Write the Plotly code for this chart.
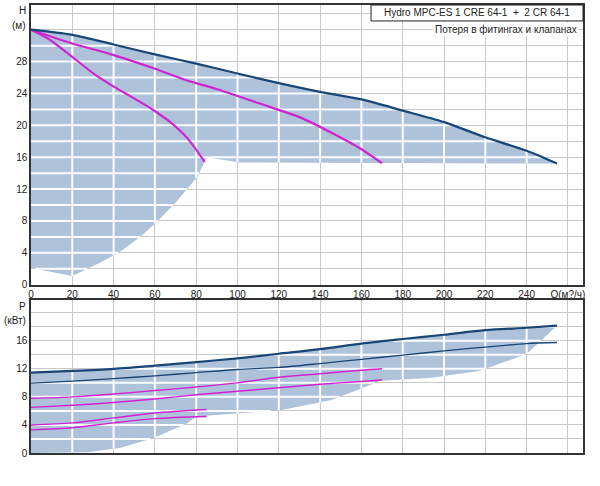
import numpy as np
import plotly.graph_objects as go

# ---------------- data ----------------
# Head curves H(Q)
q_max = [0, 20, 40, 60, 80, 100, 120, 140, 160, 180, 200, 220, 240, 254.7]
h_max = [32.0, 31.35, 30.15, 28.9, 27.75, 26.5, 25.3, 24.2, 23.25, 21.85, 20.4, 18.5, 16.8, 15.2]

q_two = [0, 19.5, 38.9, 58.3, 76, 90.6, 110, 130.3, 146, 160, 170]
h_two = [32.0, 30.3, 28.9, 27.25, 25.6, 24.5, 22.8, 21.0, 19.0, 17.0, 15.25]

q_one = [0, 8.2, 19.5, 30.8, 40.5, 51.8, 59.9, 67.9, 76, 84.1]
h_one = [32.0, 30.9, 28.7, 26.4, 24.8, 23.1, 21.8, 20.3, 18.3, 15.4]

# lower boundary of the shaded operating area (head)
q_h_lo = [0, 20, 33.4, 43, 52.8, 61, 70, 80.4, 85.2, 101, 254.7]
h_h_lo = [2.1, 1.1, 2.75, 4.1, 6.0, 7.9, 10.3, 13.5, 16.0, 15.35, 15.2]

# Power curves P(Q)
q_p = [0, 20, 40, 60, 80, 100, 120, 140, 160, 180, 200, 220, 240, 254.7]
p_max = [11.45, 11.7, 12.0, 12.45, 12.95, 13.5, 14.15, 14.8, 15.6, 16.25, 16.85, 17.5, 17.85, 18.15]
p_max2 = [9.97, 10.25, 10.6, 11.0, 11.45, 11.9, 12.2, 12.75, 13.35, 13.95, 14.55, 15.1, 15.6, 15.75]

q_p2 = [0, 20, 40, 60, 80, 100, 120, 140, 160, 170]
p_two_a = [7.8, 8.0, 8.4, 8.9, 9.4, 10.0, 10.8, 11.3, 11.8, 12.0]
p_two_b = [6.5, 6.8, 7.2, 7.7, 8.3, 8.8, 9.3, 9.8, 10.2, 10.4]

q_p1 = [0, 20, 40, 60, 85]
p_one_a = [4.0, 4.3, 5.0, 5.7, 6.2]
p_one_b = [3.3, 3.6, 4.3, 4.9, 5.2]

# lower boundary of the shaded area (power)
q_p_lo = [0, 27, 43, 59, 75.5, 80, 85, 98, 120.6, 145, 161, 169, 193, 217, 240, 254.7]
p_p_lo = [0.0, 0.1, 0.7, 2.1, 4.2, 5.2, 5.4, 5.6, 6.1, 7.5, 9.3, 10.3, 10.7, 11.7, 14.1, 18.15]

x_ticks = list(range(0, 261, 20))
x_text = [str(v) for v in range(0, 241, 20)] + ["Q(м?/ч)"]
h_ticks = list(range(0, 35, 2))
h_text = [str(v) if v % 4 == 0 and v <= 28 else "" for v in h_ticks]
p_ticks = list(range(0, 21, 2))
p_text = [str(v) if v % 4 == 0 and v <= 16 else "" for v in p_ticks]

title1 = "Hydro MPC-ES 1 CRE 64-1  +  2 CR 64-1"
title2 = "Потеря в фитингах и клапанах"

# ---------------- styles ----------------
FILL = "#aec2da"
BLUE = "#1a4675"
MAG = "#d024d0"
GRID = "#c8c8c8"
INNER = "rgb(250,252,255)"
FONT = "Liberation Sans"


def inner_grid(q_up, v_up, q_lo, v_lo, xs, ys):
    """Grid segments lying inside the shaded area (computed from its boundaries)."""
    qend = max(q_up[-1], q_lo[-1])
    Q = np.linspace(0, qend, 4000)
    up = np.interp(Q, q_up, v_up)
    lo = np.interp(Q, q_lo, v_lo)
    gx, gy = [], []
    for c in xs:
        if 0 < c < qend:
            gx += [float(c), float(c), None]
            gy += [float(np.interp(c, q_lo, v_lo)), float(np.interp(c, q_up, v_up)), None]
    for h in ys:
        if h <= 0:
            continue
        m = ((lo <= h) & (up >= h)).astype(int)
        edges = np.flatnonzero(np.diff(np.concatenate([[0], m, [0]])))
        for s, e in zip(edges[::2], edges[1::2]):
            gx += [float(Q[s]), float(Q[e - 1]), None]
            gy += [float(h), float(h), None]
    return gx, gy


fig = go.Figure()

# shaded areas with the light grid inside them
for xa, ya, qu, vu, ql, vl, yt in [("x", "y", q_max, h_max, q_h_lo, h_h_lo, h_ticks),
                                   ("x2", "y2", q_p, p_max, q_p_lo, p_p_lo, p_ticks)]:
    fig.add_trace(go.Scatter(x=qu + ql[::-1], y=vu + vl[::-1], fill="toself",
                             fillcolor=FILL, line=dict(width=0, color=FILL), mode="lines",
                             xaxis=xa, yaxis=ya, hoverinfo="skip"))
    gx, gy = inner_grid(qu, vu, ql, vl, x_ticks, yt)
    fig.add_trace(go.Scatter(x=gx, y=gy, mode="lines", connectgaps=False,
                             line=dict(color=INNER, width=2),
                             xaxis=xa, yaxis=ya, hoverinfo="skip"))

# ---- top: head ----
for qq, hh in [(q_one, h_one), (q_two, h_two)]:
    fig.add_trace(go.Scatter(x=qq, y=hh, mode="lines",
                             line=dict(color=MAG, width=2.2, shape="spline", smoothing=0.7),
                             xaxis="x", yaxis="y"))
fig.add_trace(go.Scatter(x=q_max, y=h_max, mode="lines",
                         line=dict(color=BLUE, width=2.2, shape="spline", smoothing=0.8),
                         xaxis="x", yaxis="y"))

# ---- bottom: power ----
for qq, pp in [(q_p1, p_one_a), (q_p1, p_one_b), (q_p2, p_two_a), (q_p2, p_two_b)]:
    fig.add_trace(go.Scatter(x=qq, y=pp, mode="lines",
                             line=dict(color=MAG, width=1.4, shape="spline", smoothing=0.8),
                             xaxis="x2", yaxis="y2"))
fig.add_trace(go.Scatter(x=q_p, y=p_max2, mode="lines",
                         line=dict(color=BLUE, width=1.3, shape="spline", smoothing=0.8),
                         xaxis="x2", yaxis="y2"))
fig.add_trace(go.Scatter(x=q_p, y=p_max, mode="lines",
                         line=dict(color=BLUE, width=2.2, shape="spline", smoothing=0.8),
                         xaxis="x2", yaxis="y2"))

axis_common = dict(showgrid=True, gridcolor=GRID, gridwidth=1, zeroline=False,
                   showline=True, linecolor="#333333", linewidth=1.5, mirror=True,
                   ticks="", tickfont=dict(family=FONT, size=10, color="#222222"),
                   fixedrange=True)

fig.update_layout(
    width=600, height=486,
    margin=dict(l=31, r=17, t=3, b=33),
    paper_bgcolor="white", plot_bgcolor="white",
    showlegend=False, hovermode=False,
    font=dict(family=FONT, size=10, color="#222222"),
    xaxis=dict(axis_common, domain=[0, 1], range=[0, 267.3], tickmode="array",
               tickvals=x_ticks, ticktext=x_text, anchor="y"),
    yaxis=dict(axis_common, domain=[0.3756, 1], range=[0, 35.1], tickmode="array",
               tickvals=h_ticks, ticktext=h_text, anchor="x"),
    xaxis2=dict(axis_common, domain=[0, 1], range=[0, 267.3], tickmode="array",
                tickvals=x_ticks, showticklabels=False, anchor="y2"),
    yaxis2=dict(axis_common, domain=[0, 0.3422], range=[0, 21.85], tickmode="array",
                tickvals=p_ticks, ticktext=p_text, anchor="x2"),
)

fig.add_shape(type="rect", xref="x domain", yref="y domain", x0=0.616, x1=1.0, y0=0.943, y1=1.0,
              fillcolor="white", line=dict(color="#222222", width=1), layer="above")

ann = [
    dict(text=title1, xref="x domain", yref="y domain", x=0.808, y=0.9715,
         xanchor="center", yanchor="middle", showarrow=False, font=dict(size=10)),
    dict(text=title2, xref="x domain", yref="y domain", x=0.993, y=0.911,
         xanchor="right", yanchor="middle", showarrow=False, font=dict(size=10),
         bgcolor="white"),
    dict(text="H", xref="paper", yref="y", x=0, y=34.4, xanchor="right", xshift=-3,
         showarrow=False, font=dict(size=10)),
    dict(text="(м)", xref="paper", yref="y", x=0, y=32.5, xanchor="right", xshift=-3,
         showarrow=False, font=dict(size=10)),
    dict(text="P", xref="paper", yref="y2", x=0, y=20.85, xanchor="right", xshift=-3,
         showarrow=False, font=dict(size=10)),
    dict(text="(кВт)", xref="paper", yref="y2", x=0, y=18.9, xanchor="right", xshift=-3,
         showarrow=False, font=dict(size=10)),
]
fig.update_layout(annotations=ann)

fig.write_html("out.html")
